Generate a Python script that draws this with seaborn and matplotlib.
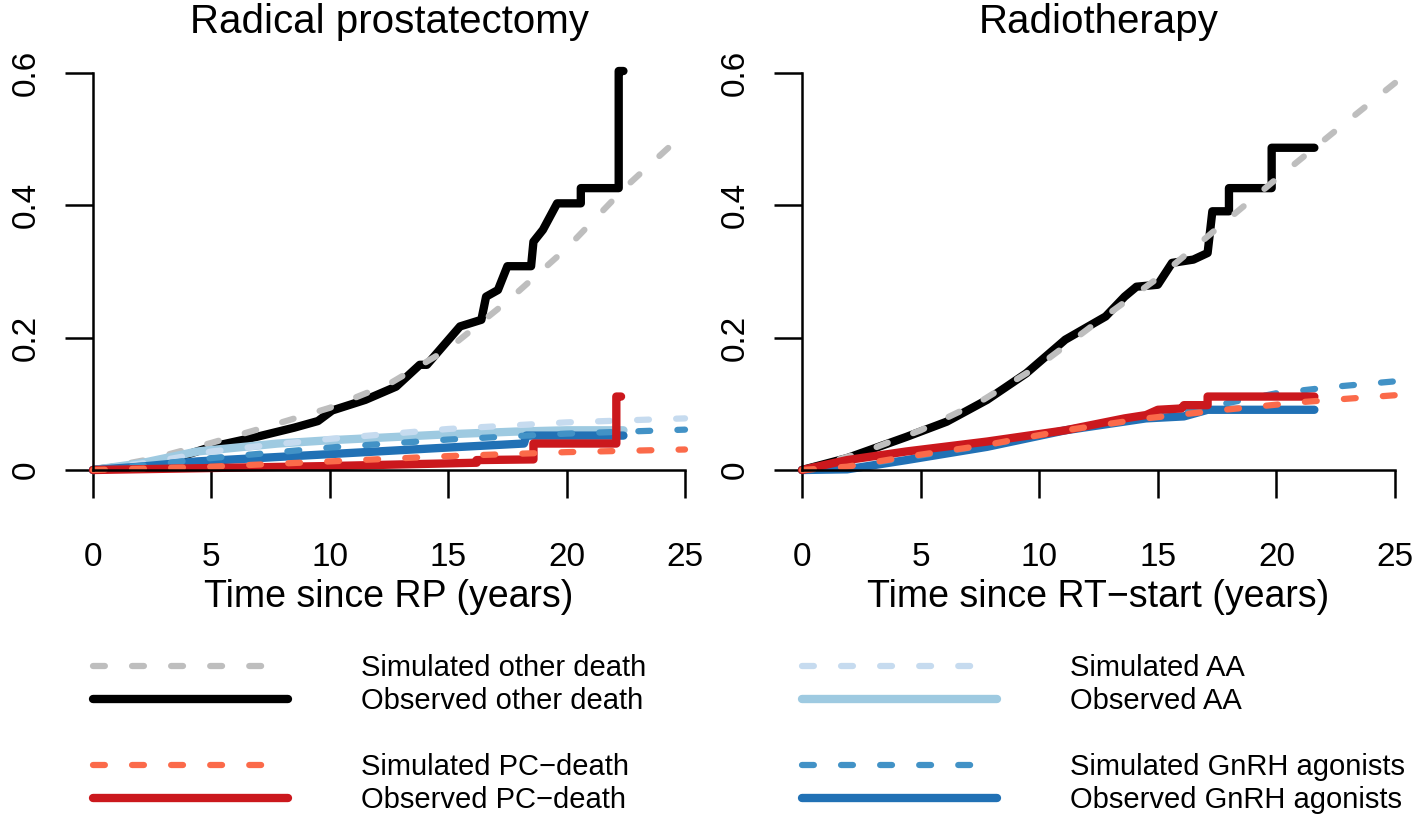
import numpy as np
import pandas as pd
import seaborn as sns
import matplotlib.pyplot as plt
from matplotlib.lines import Line2D

sns.set_theme(style="ticks")
plt.rcParams.update({
    "font.family": ["Liberation Sans", "DejaVu Sans"],
    "text.color": "black",
    "axes.labelcolor": "black",
    "axes.linewidth": 1.8,
    "xtick.major.width": 1.8,
    "ytick.major.width": 1.8,
    "xtick.major.size": 20,
    "ytick.major.size": 20,
    "xtick.color": "black",
    "ytick.color": "black",
    "xtick.labelsize": 24,
    "ytick.labelsize": 24,
    "axes.edgecolor": "black",
})

COLORS = {
    "sim_other": "#BEBEBE", "obs_other": "#000000",
    "sim_pc": "#FB6A4A", "obs_pc": "#CB181D",
    "sim_aa": "#C6DBEF", "obs_aa": "#9ECAE1",
    "sim_gnrh": "#4292C6", "obs_gnrh": "#2171B5",
}
LABELS = {
    "sim_other": "Simulated other death", "obs_other": "Observed other death",
    "sim_pc": "Simulated PC\u2212death", "obs_pc": "Observed PC\u2212death",
    "sim_aa": "Simulated AA", "obs_aa": "Observed AA",
    "sim_gnrh": "Simulated GnRH agonists", "obs_gnrh": "Observed GnRH agonists",
}

# ---- Radical prostatectomy (years, cumulative incidence) ----
rp_obs_other_t = [0, 1, 2.8, 5, 6.9, 8.5, 9.5, 10.1, 11.5, 12.8, 13.8, 14.1, 15.5, 16.4, 16.6, 17.1,
                  17.5, 18.5, 18.6, 19.0, 19.3, 19.6, 20.6, 20.6, 22.2, 22.2, 22.4]
rp_obs_other_v = [0, 0.004, 0.010, 0.035, 0.050, 0.064, 0.074, 0.090, 0.106, 0.126, 0.159, 0.159, 0.217,
                  0.227, 0.262, 0.272, 0.308, 0.308, 0.345, 0.363, 0.383, 0.403, 0.403, 0.426, 0.426,
                  0.603, 0.603]
rp_sim_other_t = [0, 2.5, 5, 7.5, 10, 12.5, 15, 17.5, 20, 22.5, 25]
rp_sim_other_v = [0, 0.017, 0.041, 0.067, 0.094, 0.130, 0.183, 0.255, 0.335, 0.428, 0.510]
rp_obs_aa_t = [0, 2, 4.4, 7.8, 10, 12.8, 15, 17.8, 20, 22.4]
rp_obs_aa_v = [0, 0.010, 0.028, 0.040, 0.045, 0.050, 0.054, 0.058, 0.060, 0.060]
rp_sim_aa_t = [0, 2.5, 5, 7.5, 10, 15, 20, 25]
rp_sim_aa_v = [0, 0.012, 0.028, 0.038, 0.047, 0.062, 0.072, 0.078]
rp_obs_gnrh_t = [0, 2, 4.4, 9.5, 14.5, 18.2, 18.3, 22.4]
rp_obs_gnrh_v = [0, 0.005, 0.013, 0.023, 0.033, 0.040, 0.052, 0.052]
rp_sim_gnrh_t = [0, 2.5, 5, 7.5, 10, 15, 20, 25]
rp_sim_gnrh_v = [0, 0.008, 0.018, 0.026, 0.034, 0.046, 0.055, 0.061]
rp_obs_pc_t = [0, 5, 10, 15, 16.2, 16.2, 18.6, 18.6, 22.1, 22.1, 22.3]
rp_obs_pc_v = [0, 0.003, 0.006, 0.010, 0.011, 0.015, 0.016, 0.040, 0.040, 0.111, 0.111]
rp_sim_pc_t = [0, 5, 10, 15, 20, 25]
rp_sim_pc_v = [0, 0.005, 0.013, 0.021, 0.027, 0.031]

# ---- Radiotherapy ----
rt_obs_other_t = [0, 1.9, 4.4, 6.1, 7.8, 9.45, 11.1, 12.8, 13.6, 14.1, 15.0, 15.6, 16.5, 17.1, 17.3,
                  18.0, 18.0, 19.8, 19.8, 21.6]
rt_obs_other_v = [0, 0.018, 0.050, 0.073, 0.106, 0.146, 0.197, 0.232, 0.262, 0.277, 0.280, 0.313,
                  0.318, 0.328, 0.391, 0.391, 0.426, 0.426, 0.487, 0.487]
rt_sim_other_t = [0, 2.5, 5, 7.5, 10, 12.5, 15, 17.5, 20, 22.5, 25]
rt_sim_other_v = [0, 0.026, 0.060, 0.103, 0.158, 0.225, 0.290, 0.365, 0.440, 0.513, 0.585]
rt_obs_gnrh_t = [0, 1.9, 4.4, 7.8, 11.1, 14.5, 16.1, 17.1, 21.6]
rt_obs_gnrh_v = [0, 0.001, 0.015, 0.035, 0.060, 0.078, 0.081, 0.091, 0.091]
rt_sim_gnrh_t = [0, 2.5, 5, 7.5, 10, 12.5, 15, 17.5, 20, 22.5, 25]
rt_sim_gnrh_v = [0, 0.008, 0.022, 0.036, 0.053, 0.068, 0.082, 0.098, 0.116, 0.126, 0.134]
rt_obs_pc_t = [0, 1.9, 4.4, 7.8, 11.1, 13.6, 14.5, 15.0, 16.0, 16.1, 17.1, 17.1, 21.6]
rt_obs_pc_v = [0, 0.015, 0.028, 0.043, 0.060, 0.078, 0.083, 0.091, 0.093, 0.098, 0.098, 0.111, 0.111]
rt_sim_pc_t = [0, 1.9, 4.4, 7.8, 11.1, 14.5, 17.8, 21.2, 25]
rt_sim_pc_v = [0, 0.005, 0.020, 0.038, 0.060, 0.078, 0.091, 0.103, 0.113]

x_ticks = [0, 5, 10, 15, 20, 25]
y_ticks = [0, 0.2, 0.4, 0.6]
y_tick_labels = ["0", "0.2", "0.4", "0.6"]


def draw(ax, t, v, key):
    dashed = key.startswith("sim")
    sns.lineplot(x=t, y=v, ax=ax, estimator=None, sort=False,
                 color=COLORS[key], label=LABELS[key], legend=False,
                 linewidth=4.5 if dashed else 6,
                 linestyle=(0, (1.9, 4.35)) if dashed else "-",
                 dash_capstyle="round", solid_capstyle="round",
                 solid_joinstyle="round", clip_on=False)


def style_axis(ax, title, xlabel):
    ax.set_xlim(0, 25)
    ax.set_ylim(0, 0.6)
    ax.set_xticks(x_ticks)
    ax.set_yticks(y_ticks)
    ax.set_yticklabels(y_tick_labels)
    plt.setp(ax.get_yticklabels(), rotation=90, va="center")
    ax.tick_params(axis="x", pad=32)
    ax.tick_params(axis="y", pad=17)
    sns.despine(ax=ax)
    ax.set_title(title, fontsize=29, pad=29)
    ax.set_xlabel(xlabel, fontsize=27, labelpad=4)
    ax.set_ylabel("")


fig = plt.figure(figsize=(14.18, 8.18), dpi=100)
ax1 = fig.add_axes([93 / 1418, 1 - 470 / 818, 592 / 1418, 397 / 818])
ax2 = fig.add_axes([802 / 1418, 1 - 470 / 818, 593 / 1418, 397 / 818])

draw(ax1, rp_obs_other_t, rp_obs_other_v, "obs_other")
draw(ax1, rp_sim_other_t, rp_sim_other_v, "sim_other")
draw(ax1, rp_obs_aa_t, rp_obs_aa_v, "obs_aa")
draw(ax1, rp_sim_aa_t, rp_sim_aa_v, "sim_aa")
draw(ax1, rp_obs_gnrh_t, rp_obs_gnrh_v, "obs_gnrh")
draw(ax1, rp_sim_gnrh_t, rp_sim_gnrh_v, "sim_gnrh")
draw(ax1, rp_obs_pc_t, rp_obs_pc_v, "obs_pc")
draw(ax1, rp_sim_pc_t, rp_sim_pc_v, "sim_pc")

draw(ax2, rt_obs_other_t, rt_obs_other_v, "obs_other")
draw(ax2, rt_sim_other_t, rt_sim_other_v, "sim_other")
draw(ax2, rt_obs_gnrh_t, rt_obs_gnrh_v, "obs_gnrh")
draw(ax2, rt_sim_gnrh_t, rt_sim_gnrh_v, "sim_gnrh")
draw(ax2, rt_obs_pc_t, rt_obs_pc_v, "obs_pc")
draw(ax2, rt_sim_pc_t, rt_sim_pc_v, "sim_pc")

style_axis(ax1, "Radical prostatectomy", "Time since RP (years)")
style_axis(ax2, "Radiotherapy", "Time since RT\u2212start (years)")

# legends below the panels
h = {ln.get_label(): ln for ln in ax1.lines}
blank = Line2D([], [], linestyle="none", label=" ")
left_keys = ["sim_other", "obs_other", None, "sim_pc", "obs_pc"]
right_keys = ["sim_aa", "obs_aa", None, "sim_gnrh", "obs_gnrh"]
for keys, x0 in [(left_keys, 93), (right_keys, 802)]:
    handles = [blank if k is None else h[LABELS[k]] for k in keys]
    fig.legend(handles=handles, labels=[hh.get_label() for hh in handles],
               loc="upper left", bbox_to_anchor=(x0 / 1418, 1 - 654 / 818),
               frameon=False, fontsize=21, handlelength=6.7, handletextpad=2.5,
               labelspacing=0.17, borderpad=0, borderaxespad=0)

fig.savefig("out.png", dpi=100)
